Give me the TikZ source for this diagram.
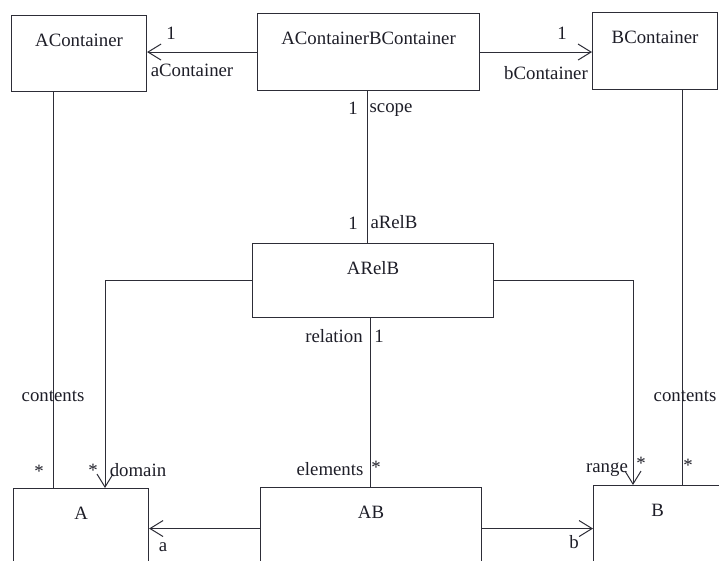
\documentclass[tikz,border=0pt]{standalone}
\usepackage{fontspec}
\setmainfont{Liberation Serif}
\usetikzlibrary{arrows.meta}
\definecolor{linec}{RGB}{45,45,55}
\definecolor{textc}{RGB}{30,30,40}
\tikzset{
  umlbox/.style={draw=linec, line width=1.1pt, inner sep=0pt, text height=31pt,
    anchor=north west, font=\fontsize{18.8}{21}\selectfont, text=textc},
  lbl/.style={inner sep=0pt, font=\fontsize{18.8}{21}\selectfont, text=textc},
  conn/.style={draw=linec, line width=1pt},
  assoc/.style={conn, -{Straight Barb[length=13pt,width=16pt,line width=1pt]}}
}
\begin{document}
\begin{tikzpicture}[x=1pt,y=-1pt]
\useasboundingbox (0,0) rectangle (719,561);
\fill[white] (0,0) rectangle (719,561);
\clip (0,0) rectangle (719,561);

% classes
\node[umlbox, minimum width=135pt, text depth=45pt] (acont) at (11,15) {AContainer};
\node[umlbox, minimum width=222pt, text depth=46pt] (acbc) at (257,13) {AContainerBContainer};
\node[umlbox, minimum width=125pt, text depth=46pt] (bcont) at (592,12) {BContainer};
\node[umlbox, minimum width=241pt, text depth=43pt] (arel) at (252,243) {ARelB};
\node[umlbox, minimum width=135pt, text depth=46pt] (a) at (13,488) {A};
\node[umlbox, minimum width=221pt, text depth=47pt] (ab) at (260,487) {AB};
\node[umlbox, minimum width=128pt, text depth=49pt] (b) at (593,485) {B};

% associations
\draw[assoc] (acbc.west) -- (acbc.west -| acont.east);
\draw[assoc] (acbc.east) -- (acbc.east -| bcont.west);
\draw[conn] ([xshift=-1pt]acbc.south) -- ([xshift=-1pt]acbc.south |- arel.north);
\draw[conn] ([xshift=-3pt]arel.south) -- ([xshift=-3pt]arel.south |- ab.north);
\draw[assoc] (arel.west) -| ([xshift=92pt]a.north west);
\draw[assoc] (arel.east) -| ([xshift=40pt]b.north west);
\draw[conn] ([xshift=42pt]acont.south west) -- ([xshift=42pt]acont.south west |- a.north);
\draw[conn] ([xshift=90pt]bcont.south west) -- ([xshift=90pt]bcont.south west |- b.north);
\draw[assoc] ([yshift=-2pt]ab.west) -- ([yshift=-2pt]ab.west -| a.east);
\draw[assoc] ([yshift=-2pt]ab.east) -- ([yshift=-2pt]ab.east -| b.west);

% role names and multiplicities
\node[lbl] (m1) at (171,33) {1};
\node[lbl] (r1) at (192,70) {aContainer};
\node[lbl] (m2) at (562,33) {1};
\node[lbl] (r2) at (546,73) {bContainer};
\node[lbl] (m3) at (353,108) {1};
\node[lbl] (r3) at (391,110) {scope};
\node[lbl] (m4) at (353,223) {1};
\node[lbl] (r4) at (394,222) {aRelB};
\node[lbl] (r5) at (334,336) {relation};
\node[lbl] (m5) at (379,336) {1};
\node[lbl] (r6) at (53,396) {contents};
\node[lbl] (m6) at (39,471) {*};
\node[lbl] (m7) at (93,470) {*};
\node[lbl] (r7) at (138,470) {domain};
\node[lbl] (r8) at (163,547) {a};
\node[lbl] (r9) at (330,469) {elements};
\node[lbl] (m8) at (376,467) {*};
\node[lbl] (r10) at (607,470) {range};
\node[lbl] (m9) at (641,463) {*};
\node[lbl] (m10) at (688,465) {*};
\node[lbl] (r11) at (685,396) {contents};
\node[lbl] (r12) at (574,542) {b};
\end{tikzpicture}
\end{document}
